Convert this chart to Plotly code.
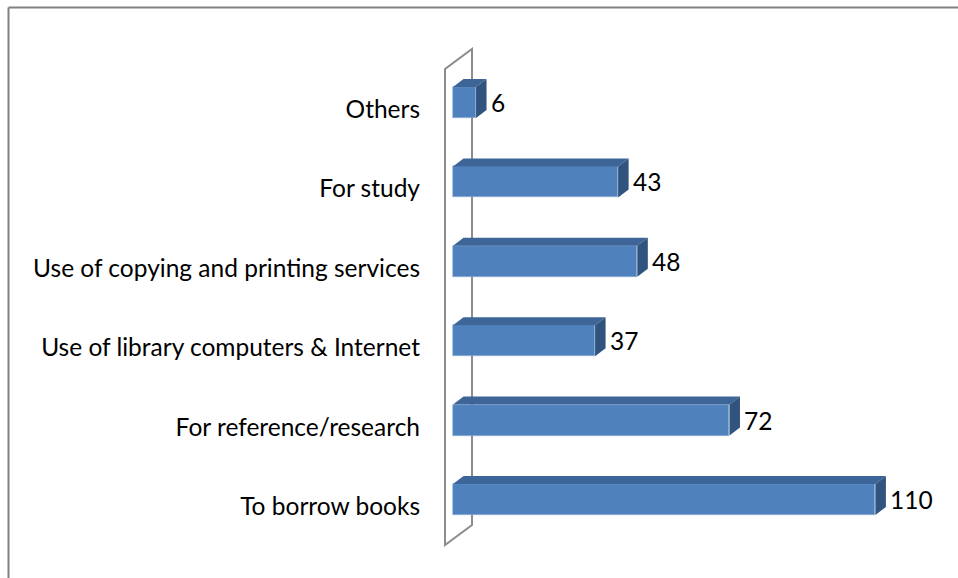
import plotly.graph_objects as go

# Reasons for visiting the library (number of respondents)
categories = [
    "To borrow books",
    "For reference/research",
    "Use of library computers & Internet",
    "Use of copying and printing services",
    "For study",
    "Others",
]
counts = [110, 72, 37, 48, 43, 6]

W, H = 958, 578
FRONT = "#4F81BD"
TOP = "#3E6597"
SIDE = "#31547F"
FONT = "Lato"
FONT_SIZE = 24.5

# pixel geometry of the plot (value 0 at x=453px, 3.84 px per unit)
PX_PER_UNIT = 3.84
X0_PX = 453
DOMAIN_LEFT_PX = 428
ROW_PX = 79.4
ROW0_PX = 499.5
BAR_W = 31 / ROW_PX          # bar thickness in category units
DX = 10.5 / PX_PER_UNIT      # depth offset, x (data units)
DY = 8 / ROW_PX              # depth offset, y (category units)
LABEL_DROP = 7 / ROW_PX      # category labels sit on the front of the wall

x_min = -(X0_PX - DOMAIN_LEFT_PX) / PX_PER_UNIT
x_max = (W - X0_PX) / PX_PER_UNIT
y_min = -(H - ROW0_PX) / ROW_PX
y_max = ROW0_PX / ROW_PX

pos = list(range(len(categories)))

fig = go.Figure()

# front faces
fig.add_trace(go.Bar(
    x=counts, y=pos, orientation="h", width=BAR_W,
    marker=dict(color=FRONT, line=dict(width=0.6, color="#8FB0DA")),
    hoverinfo="skip", showlegend=False,
))

# top and side faces of the 3D bars
tx, ty, sx, sy = [], [], [], []
h = BAR_W / 2
for v, i in zip(counts, pos):
    tx += [0, v, v + DX, DX, 0, None]
    ty += [i + h, i + h, i + h + DY, i + h + DY, i + h, None]
    sx += [v, v, v + DX, v + DX, v, None]
    sy += [i - h, i + h, i + h + DY, i - h + DY, i - h, None]

fig.add_trace(go.Scatter(x=tx, y=ty, fill="toself", fillcolor=TOP, mode="lines",
                         line=dict(width=0), hoverinfo="skip", showlegend=False))
fig.add_trace(go.Scatter(x=sx, y=sy, fill="toself", fillcolor=SIDE, mode="lines",
                         line=dict(width=0), hoverinfo="skip", showlegend=False))

# value labels
for v, i in zip(counts, pos):
    fig.add_annotation(x=v + DX, y=i, text=str(v), showarrow=False,
                       xanchor="left", yanchor="middle", xshift=2,
                       font=dict(family=FONT, size=FONT_SIZE, color="#000000"))


def px(x):
    return x / W


def py(y):
    return 1 - y / H


gray = "#8C8C8C"
shapes = [
    # axis wall
    dict(type="path", xref="paper", yref="paper", layer="below",
         path=(f"M {px(445)} {py(545)} L {px(445)} {py(69)} L {px(472)} {py(49)} "
               f"L {px(472)} {py(525)} Z"),
         line=dict(color=gray, width=2), fillcolor="rgba(0,0,0,0)"),
    # chart area border (top and left edges)
    dict(type="line", xref="paper", yref="paper",
         x0=px(8.5), y0=py(7.5), x1=px(960), y1=py(7.5),
         line=dict(color="#808080", width=2)),
    dict(type="line", xref="paper", yref="paper",
         x0=px(8.5), y0=py(7.5), x1=px(8.5), y1=py(580),
         line=dict(color="#808080", width=2)),
]

fig.update_layout(
    width=W, height=H,
    margin=dict(l=0, r=0, t=0, b=0),
    paper_bgcolor="white", plot_bgcolor="rgba(0,0,0,0)",
    shapes=shapes,
    bargap=0,
    xaxis=dict(domain=[DOMAIN_LEFT_PX / W, 1], range=[x_min, x_max],
               visible=False, fixedrange=True),
    yaxis=dict(range=[y_min, y_max], tickmode="array",
               tickvals=[p - LABEL_DROP for p in pos],
               ticktext=categories, showgrid=False, zeroline=False,
               showline=False, ticks="", ticklabelstandoff=7,
               tickfont=dict(family=FONT, size=FONT_SIZE, color="#000000"),
               fixedrange=True),
)

fig.write_html("out.html")
